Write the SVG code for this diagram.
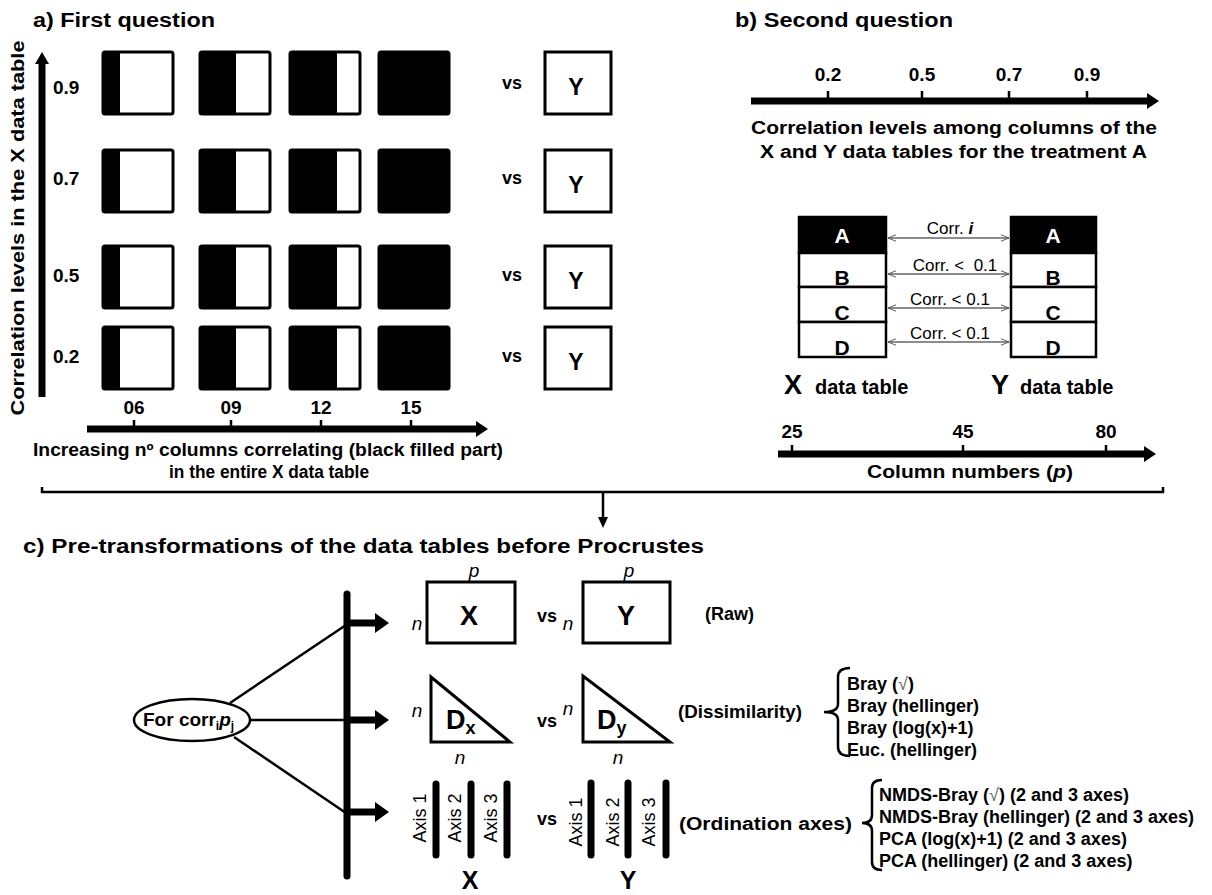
<svg xmlns="http://www.w3.org/2000/svg" width="1212" height="895" viewBox="0 0 1212 895">
  <style>
    text { font-family: "Liberation Sans", Arial, sans-serif; fill: #000; }
    .title { font-size: 20px; font-weight: bold; }
    .lbl { font-size: 18px; font-weight: bold; }
    .num { font-size: 19px; font-weight: bold; }
    .vs { font-size: 18px; font-weight: bold; }
    .box { fill: #fff; stroke: #000; stroke-width: 3; }
    .fill { fill: #000; }
    .axis { stroke: #000; stroke-width: 7; fill: none; }
    .tick { stroke: #000; stroke-width: 2.5; }
    .tbl { fill: #fff; stroke: #000; stroke-width: 2.5; }
    .cell { font-size: 21px; font-weight: bold; }
    .link { stroke: #000; stroke-width: 2.5; fill: none; }
    .thin { stroke: #666; stroke-width: 1.3; fill: none; }
    .it { font-style: italic; }
    .big { font-size: 27px; font-weight: bold; }
    .list { font-size: 18px; font-weight: bold; }
    .axlab { font-size: 18px; }
    .corr { font-size: 17px; }
    .tname { font-size: 20px; font-weight: bold; }
  </style>
  <defs>
    <marker id="chev" viewBox="0 0 10 10" refX="10" refY="5" markerWidth="8" markerHeight="8" orient="auto-start-reverse" markerUnits="userSpaceOnUse">
      <path d="M0,1 L10,5 L0,9" fill="none" stroke="#555" stroke-width="1.2"/>
    </marker>
  </defs>

  <rect width="1212" height="895" fill="#fff"/>

  <!-- Panel a: first question -->
  <g id="panel-a">
    <text class="title" x="33" y="27" textLength="182" lengthAdjust="spacingAndGlyphs">a) First question</text>
    <!-- vertical axis -->
    <line class="axis" x1="42" y1="62" x2="42" y2="397"/>
    <polygon points="42,52 35,64 49,64" fill="#000"/>
    <text class="lbl" transform="translate(24,228) rotate(-90)" text-anchor="middle" textLength="375" lengthAdjust="spacingAndGlyphs">Correlation levels in the X data table</text>
    <!-- row labels -->
    <text class="num" x="53" y="94">0.9</text>
    <text class="num" x="53" y="185">0.7</text>
    <text class="num" x="53" y="282">0.5</text>
    <text class="num" x="53" y="363">0.2</text>

    <!-- grid of X tables, black part = correlating columns -->
    <g id="row-09">
      <rect class="box" x="103" y="52" width="70" height="62" rx="2"/><rect class="fill" x="103" y="52" width="17" height="62" rx="2"/>
      <rect class="box" x="200" y="52" width="70" height="62" rx="2"/><rect class="fill" x="200" y="52" width="36" height="62" rx="2"/>
      <rect class="box" x="290" y="52" width="70" height="62" rx="2"/><rect class="fill" x="290" y="52" width="47" height="62" rx="2"/>
      <rect class="box" x="379" y="52" width="70" height="62" rx="2"/><rect class="fill" x="379" y="52" width="70" height="62" rx="2"/>
    </g>
    <g id="row-07">
      <rect class="box" x="103" y="150" width="70" height="62" rx="2"/><rect class="fill" x="103" y="150" width="17" height="62" rx="2"/>
      <rect class="box" x="200" y="150" width="70" height="62" rx="2"/><rect class="fill" x="200" y="150" width="36" height="62" rx="2"/>
      <rect class="box" x="290" y="150" width="70" height="62" rx="2"/><rect class="fill" x="290" y="150" width="47" height="62" rx="2"/>
      <rect class="box" x="379" y="150" width="70" height="62" rx="2"/><rect class="fill" x="379" y="150" width="70" height="62" rx="2"/>
    </g>
    <g id="row-05">
      <rect class="box" x="103" y="246" width="70" height="62" rx="2"/><rect class="fill" x="103" y="246" width="17" height="62" rx="2"/>
      <rect class="box" x="200" y="246" width="70" height="62" rx="2"/><rect class="fill" x="200" y="246" width="36" height="62" rx="2"/>
      <rect class="box" x="290" y="246" width="70" height="62" rx="2"/><rect class="fill" x="290" y="246" width="47" height="62" rx="2"/>
      <rect class="box" x="379" y="246" width="70" height="62" rx="2"/><rect class="fill" x="379" y="246" width="70" height="62" rx="2"/>
    </g>
    <g id="row-02">
      <rect class="box" x="103" y="327" width="70" height="62" rx="2"/><rect class="fill" x="103" y="327" width="17" height="62" rx="2"/>
      <rect class="box" x="200" y="327" width="70" height="62" rx="2"/><rect class="fill" x="200" y="327" width="36" height="62" rx="2"/>
      <rect class="box" x="290" y="327" width="70" height="62" rx="2"/><rect class="fill" x="290" y="327" width="47" height="62" rx="2"/>
      <rect class="box" x="379" y="327" width="70" height="62" rx="2"/><rect class="fill" x="379" y="327" width="70" height="62" rx="2"/>
    </g>

    <!-- vs Y -->
    <g id="y-tables">
      <text class="vs" x="512" y="89" text-anchor="middle">vs</text>
      <rect class="box" x="545" y="52" width="66" height="62"/>
      <text x="576" y="95" text-anchor="middle" font-size="23" font-weight="bold">Y</text>
      <text class="vs" x="512" y="184" text-anchor="middle">vs</text>
      <rect class="box" x="545" y="150" width="66" height="62"/>
      <text x="576" y="193" text-anchor="middle" font-size="23" font-weight="bold">Y</text>
      <text class="vs" x="512" y="281" text-anchor="middle">vs</text>
      <rect class="box" x="545" y="246" width="66" height="62"/>
      <text x="576" y="289" text-anchor="middle" font-size="23" font-weight="bold">Y</text>
      <text class="vs" x="512" y="362" text-anchor="middle">vs</text>
      <rect class="box" x="545" y="327" width="66" height="62"/>
      <text x="576" y="370" text-anchor="middle" font-size="23" font-weight="bold">Y</text>
    </g>

    <!-- horizontal axis -->
    <line class="axis" x1="87" y1="429" x2="478" y2="429"/>
    <polygon points="488,429 476,421 476,437" fill="#000"/>
    <line class="tick" x1="134" y1="420" x2="134" y2="427"/>
    <line class="tick" x1="231" y1="420" x2="231" y2="427"/>
    <line class="tick" x1="321" y1="420" x2="321" y2="427"/>
    <line class="tick" x1="411" y1="420" x2="411" y2="427"/>
    <text class="num" x="134" y="414" text-anchor="middle">06</text>
    <text class="num" x="231" y="414" text-anchor="middle">09</text>
    <text class="num" x="321" y="414" text-anchor="middle">12</text>
    <text class="num" x="411" y="414" text-anchor="middle">15</text>
    <text class="lbl" x="33" y="456" textLength="470" lengthAdjust="spacingAndGlyphs">Increasing nº columns correlating (black filled part)</text>
    <text class="lbl" x="169" y="478" textLength="200" lengthAdjust="spacingAndGlyphs">in the entire X data table</text>
  </g>

  <!-- Panel b: second question -->
  <g id="panel-b">
    <text class="title" x="735" y="27" textLength="218" lengthAdjust="spacingAndGlyphs">b) Second question</text>
    <line class="axis" x1="751" y1="101" x2="1148" y2="101"/>
    <polygon points="1159,101 1147,93 1147,109" fill="#000"/>
    <line class="tick" x1="828" y1="91" x2="828" y2="99"/>
    <line class="tick" x1="922" y1="91" x2="922" y2="99"/>
    <line class="tick" x1="1009" y1="91" x2="1009" y2="99"/>
    <line class="tick" x1="1087" y1="91" x2="1087" y2="99"/>
    <text class="num" x="828" y="81" text-anchor="middle">0.2</text>
    <text class="num" x="922" y="81" text-anchor="middle">0.5</text>
    <text class="num" x="1009" y="81" text-anchor="middle">0.7</text>
    <text class="num" x="1087" y="81" text-anchor="middle">0.9</text>
    <text class="lbl" x="751" y="134" textLength="406" lengthAdjust="spacingAndGlyphs">Correlation levels among columns of the</text>
    <text class="lbl" x="760" y="158" textLength="387" lengthAdjust="spacingAndGlyphs">X and Y data tables for the treatment A</text>

    <!-- X data table -->
    <g id="x-table">
      <rect x="799" y="217" width="87" height="36" fill="#000" stroke="#000" stroke-width="2.5"/>
      <rect class="tbl" x="799" y="253" width="87" height="34"/>
      <rect class="tbl" x="799" y="287" width="87" height="35"/>
      <rect class="tbl" x="799" y="322" width="87" height="35"/>
      <text class="cell" x="842" y="243" text-anchor="middle" style="fill:#fff">A</text>
      <text class="cell" x="842" y="285" text-anchor="middle">B</text>
      <text class="cell" x="842" y="320" text-anchor="middle">C</text>
      <text class="cell" x="842" y="355" text-anchor="middle">D</text>
      <text x="784" y="394" font-size="27" font-weight="bold">X</text>
      <text class="tname" x="815" y="394">data table</text>
    </g>
    <!-- Y data table -->
    <g id="y-table">
      <rect x="1011" y="217" width="85" height="36" fill="#000" stroke="#000" stroke-width="2.5"/>
      <rect class="tbl" x="1011" y="253" width="85" height="34"/>
      <rect class="tbl" x="1011" y="287" width="85" height="35"/>
      <rect class="tbl" x="1011" y="322" width="85" height="35"/>
      <text class="cell" x="1053" y="243" text-anchor="middle" style="fill:#fff">A</text>
      <text class="cell" x="1053" y="285" text-anchor="middle">B</text>
      <text class="cell" x="1053" y="320" text-anchor="middle">C</text>
      <text class="cell" x="1053" y="355" text-anchor="middle">D</text>
      <text x="991" y="394" font-size="27" font-weight="bold">Y</text>
      <text class="tname" x="1020" y="394">data table</text>
    </g>

    <!-- column-number axis -->
    <line class="axis" x1="778" y1="454" x2="1145" y2="454"/>
    <polygon points="1156,454 1144,446 1144,462" fill="#000"/>
    <line class="tick" x1="792" y1="445" x2="792" y2="452"/>
    <line class="tick" x1="963" y1="445" x2="963" y2="452"/>
    <line class="tick" x1="1106" y1="445" x2="1106" y2="452"/>
    <text class="num" x="792" y="438" text-anchor="middle">25</text>
    <text class="num" x="963" y="438" text-anchor="middle">45</text>
    <text class="num" x="1106" y="438" text-anchor="middle">80</text>
    <text class="lbl" x="867" y="478" textLength="206" lengthAdjust="spacingAndGlyphs">Column numbers (<tspan class="it">p</tspan>)</text>
  </g>

  <!-- Panel c: pre-transformations -->
  <g id="panel-c">
    <text class="title" x="23" y="553" textLength="681" lengthAdjust="spacingAndGlyphs">c) Pre-transformations of the data tables before Procrustes</text>

    <g id="start-node">
      <ellipse cx="192" cy="720" rx="58" ry="21" fill="#fff" stroke="#000" stroke-width="2.5"/>
      <text class="num" x="143" y="726">For corr<tspan font-size="12" dy="4">i</tspan><tspan class="it" dy="-4">p</tspan><tspan font-size="12" dy="4">j</tspan></text>
    </g>

    <g id="raw">
      <text class="it" x="474" y="577" text-anchor="middle" font-size="19">p</text>
      <text class="it" x="417" y="630" text-anchor="middle" font-size="19">n</text>
      <rect class="box" x="427" y="582" width="88" height="61"/>
      <text class="big" x="469" y="625" text-anchor="middle">X</text>
      <text class="vs" x="547" y="622" text-anchor="middle">vs</text>
      <text class="it" x="568" y="630" text-anchor="middle" font-size="19">n</text>
      <text class="it" x="629" y="577" text-anchor="middle" font-size="19">p</text>
      <rect class="box" x="583" y="582" width="87" height="61"/>
      <text class="big" x="626" y="625" text-anchor="middle">Y</text>
      <text class="list" x="705" y="620">(Raw)</text>
    </g>

    <g id="dissimilarity">
      <text class="it" x="417" y="717" text-anchor="middle" font-size="19">n</text>
      <polygon points="431,677 431,742 510,742" fill="#fff" stroke="#000" stroke-width="3"/>
      <text class="big" x="446" y="729">D<tspan font-size="18" dy="5">x</tspan></text>
      <text class="it" x="460" y="764" text-anchor="middle" font-size="19">n</text>
      <text class="vs" x="547" y="727" text-anchor="middle">vs</text>
      <text class="it" x="568" y="715" text-anchor="middle" font-size="19">n</text>
      <polygon points="583,676 583,742 670,742" fill="#fff" stroke="#000" stroke-width="3"/>
      <text class="big" x="597" y="729">D<tspan font-size="18" dy="5">y</tspan></text>
      <text class="it" x="618" y="764" text-anchor="middle" font-size="19">n</text>
      <text class="list" x="678" y="718" textLength="124" lengthAdjust="spacingAndGlyphs">(Dissimilarity)</text>
      <path class="link" d="M850,668 Q838,668 838,677 L838,704 Q838,712 824,712 Q838,712 838,720 L838,747 Q838,756 850,756"/>
      <text class="list" x="847" y="690">Bray (<tspan font-weight="normal" style="fill:#666">√</tspan>)</text>
      <text class="list" x="847" y="712">Bray (hellinger)</text>
      <text class="list" x="847" y="734">Bray (log(x)+1)</text>
      <text class="list" x="847" y="756">Euc. (hellinger)</text>
    </g>

    <g id="ordination">
      <line class="axis" x1="436" y1="784" x2="436" y2="855" stroke-linecap="round" stroke-width="6"/>
      <line class="axis" x1="471" y1="784" x2="471" y2="855" stroke-linecap="round" stroke-width="6"/>
      <line class="axis" x1="507" y1="784" x2="507" y2="855" stroke-linecap="round" stroke-width="6"/>
      <text class="axlab" transform="translate(426,818) rotate(-90)" text-anchor="middle">Axis 1</text>
      <text class="axlab" transform="translate(461,818) rotate(-90)" text-anchor="middle">Axis 2</text>
      <text class="axlab" transform="translate(497,818) rotate(-90)" text-anchor="middle">Axis 3</text>
      <text x="470" y="889" text-anchor="middle" font-size="25" font-weight="bold">X</text>
      <text class="vs" x="547" y="825" text-anchor="middle">vs</text>
      <line class="axis" x1="591" y1="783" x2="591" y2="855" stroke-linecap="round" stroke-width="6"/>
      <line class="axis" x1="628" y1="783" x2="628" y2="855" stroke-linecap="round" stroke-width="6"/>
      <line class="axis" x1="666" y1="783" x2="666" y2="855" stroke-linecap="round" stroke-width="6"/>
      <text class="axlab" transform="translate(582,822) rotate(-90)" text-anchor="middle">Axis 1</text>
      <text class="axlab" transform="translate(619,822) rotate(-90)" text-anchor="middle">Axis 2</text>
      <text class="axlab" transform="translate(655,822) rotate(-90)" text-anchor="middle">Axis 3</text>
      <text x="628" y="889" text-anchor="middle" font-size="25" font-weight="bold">Y</text>
      <text class="list" x="679" y="830" textLength="173" lengthAdjust="spacingAndGlyphs">(Ordination  axes)</text>
      <path class="link" d="M882,780 Q872,780 872,788 L872,815 Q872,823 862,823 Q872,823 872,831 L872,862 Q872,870 882,870"/>
      <text class="list" x="879" y="801">NMDS-Bray (<tspan font-weight="normal" style="fill:#666">√</tspan>) (2 and 3 axes)</text>
      <text class="list" x="879" y="823">NMDS-Bray (hellinger) (2 and 3 axes)</text>
      <text class="list" x="879" y="845">PCA (log(x)+1) (2 and 3 axes)</text>
      <text class="list" x="879" y="867">PCA (hellinger) (2 and 3 axes)</text>
    </g>
  </g>

  <!-- connectors -->
  <g id="connectors">
    <!-- correlation links between table rows -->
    <line class="thin" x1="888" y1="238" x2="1009" y2="238" marker-start="url(#chev)" marker-end="url(#chev)"/>
    <line class="thin" x1="888" y1="274" x2="1009" y2="274" marker-start="url(#chev)" marker-end="url(#chev)"/>
    <line class="thin" x1="888" y1="308" x2="1009" y2="308" marker-start="url(#chev)" marker-end="url(#chev)"/>
    <line class="thin" x1="888" y1="342" x2="1009" y2="342" marker-start="url(#chev)" marker-end="url(#chev)"/>
    <text class="corr" x="950" y="234" text-anchor="middle">Corr. <tspan font-weight="bold" font-style="italic">i</tspan></text>
    <text class="corr" x="955" y="271" text-anchor="middle" xml:space="preserve">Corr. &lt;  0.1</text>
    <text class="corr" x="950" y="305" text-anchor="middle">Corr. &lt; 0.1</text>
    <text class="corr" x="950" y="339" text-anchor="middle">Corr. &lt; 0.1</text>

    <!-- joining line from panels a and b into c -->
    <path class="link" d="M42,487 L42,492 L1163,492 L1163,487"/>
    <line x1="603" y1="493" x2="603" y2="518" stroke="#000" stroke-width="2.5"/>
    <polygon points="603,528 598,517 608,517" fill="#000"/>

    <!-- branch lines from start node to the bar -->
    <line class="link" x1="230" y1="703" x2="346" y2="625"/>
    <line class="link" x1="250" y1="720" x2="346" y2="720"/>
    <line class="link" x1="234" y1="737" x2="346" y2="813"/>
    <line class="axis" x1="347" y1="594" x2="347" y2="876" stroke-linecap="round"/>
    <line class="axis" x1="347" y1="623" x2="377" y2="623"/>
    <polygon points="389,623 375,613 375,633" fill="#000"/>
    <line class="axis" x1="347" y1="720" x2="377" y2="720"/>
    <polygon points="389,720 375,710 375,730" fill="#000"/>
    <line class="axis" x1="347" y1="812" x2="377" y2="812"/>
    <polygon points="389,812 375,802 375,822" fill="#000"/>
  </g>
</svg>
